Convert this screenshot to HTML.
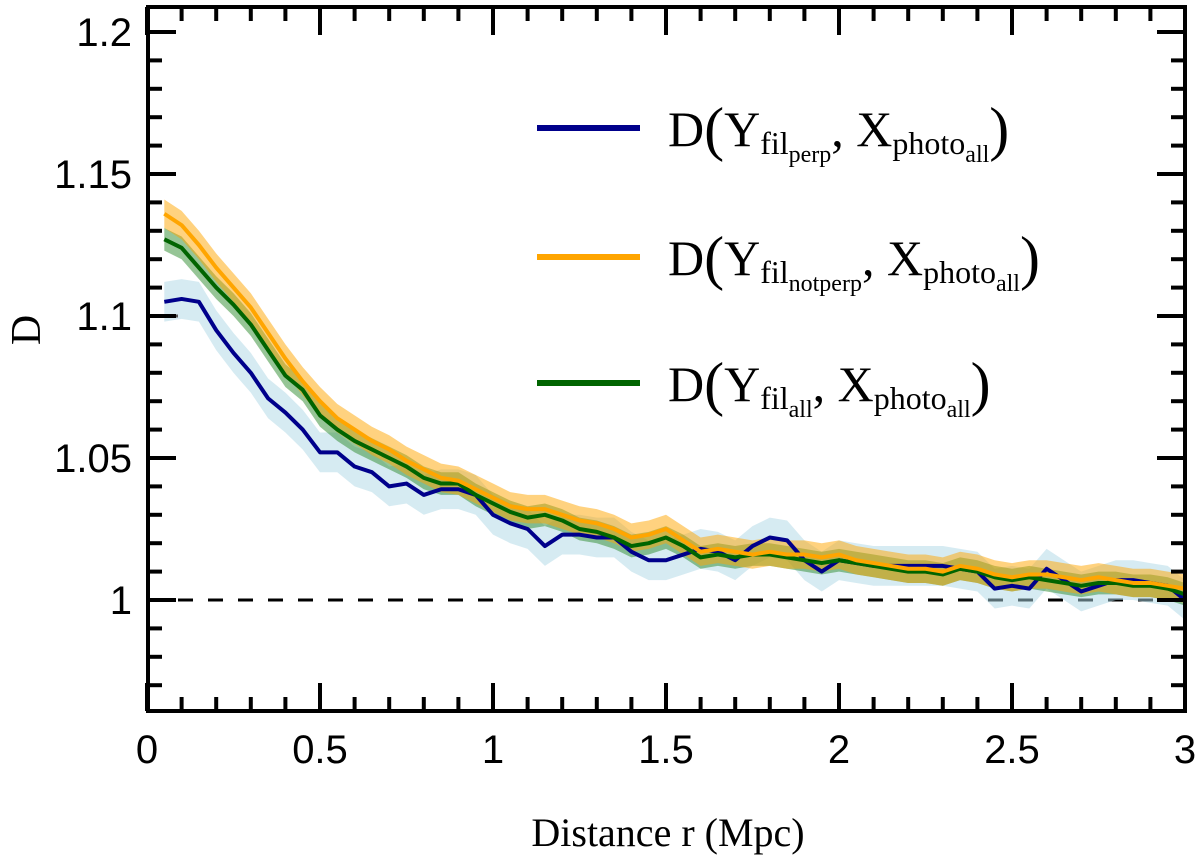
<!DOCTYPE html>
<html><head><meta charset="utf-8"><style>
html,body{margin:0;padding:0;background:#fff;}
svg{display:block;}
</style></head><body>
<svg id="chart" width="1200" height="866" viewBox="0 0 1200 866" xmlns="http://www.w3.org/2000/svg"></svg>
<script>
const radii = [];
for (let i = 1; i <= 60; i++) radii.push(+(i * 0.05).toFixed(2));
const bluePerp = [1.105,1.106,1.105,1.095,1.087,1.080,1.071,1.066,1.060,1.052,
1.052,1.047,1.045,1.040,1.041,1.037,1.039,1.039,1.037,1.030,
1.027,1.025,1.019,1.023,1.023,1.022,1.022,1.017,1.014,1.014,
1.016,1.018,1.017,1.014,1.019,1.022,1.021,1.014,1.010,1.014,
1.013,1.012,1.012,1.012,1.012,1.012,1.011,1.010,1.004,1.005,
1.004,1.011,1.007,1.003,1.005,1.007,1.007,1.006,1.005,1.000];
const orangeNotPerp = [1.136,1.132,1.125,1.117,1.110,1.103,1.094,1.085,1.077,1.070,
1.064,1.060,1.056,1.053,1.049,1.046,1.043,1.042,1.039,1.036,
1.033,1.032,1.032,1.030,1.028,1.027,1.025,1.022,1.023,1.025,
1.021,1.017,1.018,1.017,1.016,1.017,1.016,1.016,1.015,1.016,
1.014,1.013,1.012,1.011,1.011,1.010,1.012,1.011,1.009,1.008,
1.009,1.009,1.008,1.007,1.008,1.007,1.006,1.006,1.005,1.004];
const greenAll = [1.127,1.124,1.117,1.110,1.104,1.097,1.088,1.079,1.074,1.065,
1.060,1.056,1.053,1.050,1.047,1.043,1.041,1.041,1.037,1.034,
1.031,1.029,1.030,1.028,1.025,1.024,1.022,1.019,1.020,1.022,
1.019,1.015,1.016,1.015,1.016,1.016,1.015,1.014,1.013,1.014,
1.013,1.012,1.011,1.010,1.010,1.009,1.011,1.010,1.008,1.007,
1.008,1.007,1.006,1.005,1.006,1.006,1.005,1.005,1.004,1.002];
const blueErr = [0.007];
const orangeErr = [0.005];
const greenErr = [0.004];
const xTicks = [0,0.5,1,1.5,2,2.5,3];
const xTickLabels = ["0","0.5","1","1.5","2","2.5","3"];
const yTicks = [1,1.05,1.1,1.15,1.2];
const yTickLabels = ["1","1.05","1.1","1.15","1.2"];

const L=148,R=1185,T=7,B=711;
const X = r => 147 + r*346;
const Y = v => 600 - (v-1)*2840;
const svg = document.getElementById('chart');
const NS='http://www.w3.org/2000/svg';
function mk(tag, attrs, parent){const e=document.createElementNS(NS,tag);for(const k in attrs)e.setAttribute(k,attrs[k]);(parent||svg).appendChild(e);return e;}

const clip = mk('clipPath',{id:'pc'}); mk('rect',{x:L,y:T,width:R-L,height:B-T},clip);
const plot = mk('g',{'clip-path':'url(#pc)'});



const ref = mk('line',{x1:L,x2:R,y1:Y(1),y2:Y(1),stroke:'#000','stroke-width':3,'stroke-dasharray':'15 15'},plot);



function band(vals, err, fill, op, name){
  let d='';
  vals.forEach((v,i)=>{d+=(i?'L':'M')+X(radii[i])+','+Y(v+err[0]);});
  for(let i=vals.length-1;i>=0;i--) d+='L'+X(radii[i])+','+Y(vals[i]-err[0]);
  const p=mk('path',{d:d+'Z',fill:fill,'fill-opacity':op,stroke:'none'},plot);
  
  
}
function line(vals, color, name){
  const p=mk('polyline',{points:vals.map((v,i)=>X(radii[i])+','+Y(v)).join(' '),fill:'none',stroke:color,'stroke-width':4,'stroke-linejoin':'round'},plot);
  
  
}
band(bluePerp, blueErr, '#add8e6', 0.5, 'band-perp');
band(greenAll, greenErr, '#2e8b2e', 0.5, 'band-all');
band(orangeNotPerp, orangeErr, '#ffa500', 0.5, 'band-notperp');
line(bluePerp,'#00008b','line-perp');
line(greenAll,'#006400','line-all');
line(orangeNotPerp,'#ffa500','line-notperp');
const gm = mk('line',{x1:165,x2:178,y1:Y(1.1),y2:Y(1.1),stroke:'#555','stroke-width':3},plot);



const frame = mk('rect',{x:L,y:T,width:R-L,height:B-T,fill:'none',stroke:'#000','stroke-width':4});



for(let i=0;i<=30;i++){
  const r=i*0.1, x=X(r); if(x<L-1||x>R+1) continue;
  const len = (i%5===0)?28:14;
  const t1=mk('line',{x1:x,x2:x,y1:B,y2:B-len,stroke:'#000','stroke-width':4});
  
  
  const t2=mk('line',{x1:x,x2:x,y1:T,y2:T+len,stroke:'#000','stroke-width':4});
  
  
}
for(let i=-4;i<=21;i++){
  const v=1+i*0.01, y=Y(v); if(y<T+1||y>B-1) continue;
  const len = (i%5===0)?28:14;
  const t1=mk('line',{x1:L,x2:L+len,y1:y,y2:y,stroke:'#000','stroke-width':4});
  
  
  const t2=mk('line',{x1:R,x2:R-len,y1:y,y2:y,stroke:'#000','stroke-width':4});
  
  
}
xTicks.forEach((r,i)=>{
  const t=mk('text',{x:X(r),y:763,'text-anchor':'middle','font-family':'Liberation Sans, sans-serif','font-size':40});
  t.textContent=xTickLabels[i];
  
  
});
yTicks.forEach((v,i)=>{
  const t=mk('text',{x:132,y:Y(v)+14,'text-anchor':'end','font-family':'Liberation Sans, sans-serif','font-size':40});
  t.textContent=yTickLabels[i];
  
  
});
const xl=mk('text',{x:668,y:846,'text-anchor':'middle','font-family':'Liberation Serif, serif','font-size':40});
xl.textContent='Distance r (Mpc)';


const yl=mk('text',{x:0,y:0,'text-anchor':'middle','font-family':'Liberation Serif, serif','font-size':42,transform:'translate(40,330) rotate(-90)'});
yl.textContent='D';



const legend = [
  {c:'#00008b',y:128,sub1:'perp',name:'legend-entry-perp'},
  {c:'#ffa500',y:257,sub1:'notperp',name:'legend-entry-notperp'},
  {c:'#006400',y:383,sub1:'all',name:'legend-entry-all'}
];
legend.forEach(e=>{
  const g=mk('g',{});
  
  
  mk('line',{x1:537,x2:640,y1:e.y,y2:e.y,stroke:e.c,'stroke-width':6},g);
  const t=mk('text',{x:668,y:e.y+18,'font-family':'Liberation Serif, serif','font-size':50},g);
  t.innerHTML='D<tspan font-size="60" dy="3">(</tspan><tspan dy="-3">Y</tspan><tspan font-size="32" dy="8">fil</tspan><tspan font-size="24" dy="8">'+e.sub1+'</tspan><tspan dy="-16">, X</tspan><tspan font-size="32" dy="8">photo</tspan><tspan font-size="24" dy="8">all</tspan><tspan font-size="60" dy="-13">)</tspan>';
});
</script>
</body></html>
